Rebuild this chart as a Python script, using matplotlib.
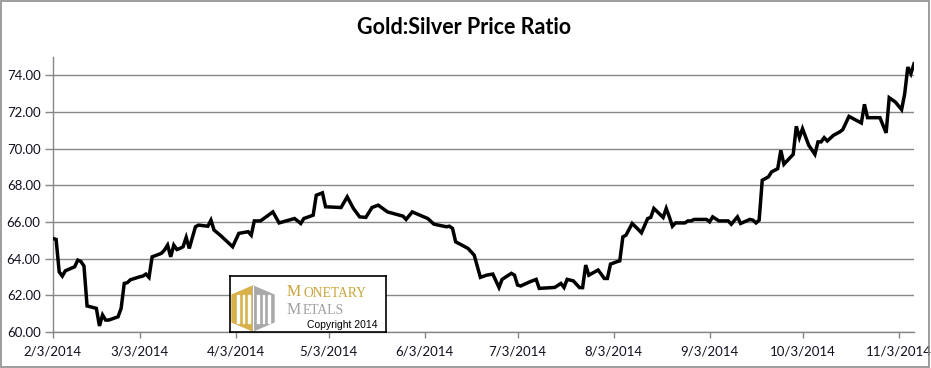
import matplotlib
matplotlib.use("Agg")
import matplotlib.pyplot as plt
import matplotlib.dates as mdates
import matplotlib.patches as mpatches
import matplotlib.ticker as mticker
import pandas as pd

# Gold:Silver ratio
dates = [
    "2014-02-03", "2014-02-04", "2014-02-05", "2014-02-06", "2014-02-07",
    "2014-02-10", "2014-02-11", "2014-02-12", "2014-02-13", "2014-02-14",
    "2014-02-17", "2014-02-18", "2014-02-19", "2014-02-20", "2014-02-21",
    "2014-02-24", "2014-02-25", "2014-02-26", "2014-02-27", "2014-02-28",
    "2014-03-03", "2014-03-04", "2014-03-05", "2014-03-06", "2014-03-07",
    "2014-03-10", "2014-03-11", "2014-03-12", "2014-03-13", "2014-03-14",
    "2014-03-15", "2014-03-16", "2014-03-17", "2014-03-18", "2014-03-19",
    "2014-03-21", "2014-03-22", "2014-03-25", "2014-03-26", "2014-03-27",
    "2014-03-29", "2014-04-02", "2014-04-04", "2014-04-07", "2014-04-08",
    "2014-04-09", "2014-04-11", "2014-04-15", "2014-04-17", "2014-04-22",
    "2014-04-24", "2014-04-25", "2014-04-28", "2014-04-29", "2014-05-01",
    "2014-05-02", "2014-05-07", "2014-05-09", "2014-05-11", "2014-05-13",
    "2014-05-15", "2014-05-17", "2014-05-19", "2014-05-22", "2014-05-27",
    "2014-05-28", "2014-05-30", "2014-06-04", "2014-06-06", "2014-06-10",
    "2014-06-11", "2014-06-12", "2014-06-13", "2014-06-15", "2014-06-17",
    "2014-06-19", "2014-06-21", "2014-06-23", "2014-06-25", "2014-06-27",
    "2014-06-28", "2014-07-01", "2014-07-02", "2014-07-03", "2014-07-04",
    "2014-07-07", "2014-07-09", "2014-07-10", "2014-07-15", "2014-07-17",
    "2014-07-18", "2014-07-19", "2014-07-21", "2014-07-23", "2014-07-24",
    "2014-07-25", "2014-07-26", "2014-07-29", "2014-07-30", "2014-07-31",
    "2014-08-01", "2014-08-02", "2014-08-04", "2014-08-05", "2014-08-06",
    "2014-08-07", "2014-08-09", "2014-08-11", "2014-08-12", "2014-08-14",
    "2014-08-15", "2014-08-16", "2014-08-19", "2014-08-20", "2014-08-21",
    "2014-08-22", "2014-08-23", "2014-08-26", "2014-08-27", "2014-08-28",
    "2014-08-29", "2014-09-02", "2014-09-03", "2014-09-04", "2014-09-06",
    "2014-09-09", "2014-09-10", "2014-09-12", "2014-09-13", "2014-09-16",
    "2014-09-17", "2014-09-18", "2014-09-19", "2014-09-20", "2014-09-22",
    "2014-09-23", "2014-09-25", "2014-09-26", "2014-09-27", "2014-09-30",
    "2014-10-01", "2014-10-02", "2014-10-03", "2014-10-05", "2014-10-07",
    "2014-10-08", "2014-10-09", "2014-10-10", "2014-10-11", "2014-10-13",
    "2014-10-15", "2014-10-16", "2014-10-17", "2014-10-18", "2014-10-22",
    "2014-10-23", "2014-10-24", "2014-10-28", "2014-10-29", "2014-10-30",
    "2014-10-31", "2014-11-02", "2014-11-04", "2014-11-05", "2014-11-06",
    "2014-11-07", "2014-11-08",
]
ratio = [
    65.10, 65.05, 63.28, 63.05, 63.34,
    63.56, 63.92, 63.85, 63.60, 61.42,
    61.29, 60.33, 60.93, 60.65, 60.65,
    60.83, 61.29, 62.65, 62.69, 62.85,
    63.01, 63.05, 63.16, 62.98, 64.10,
    64.29, 64.47, 64.74, 64.10, 64.74,
    64.50, 64.56, 64.65, 65.16, 64.56,
    65.74, 65.83, 65.77, 66.10, 65.56,
    65.28, 64.65, 65.38, 65.47, 65.28,
    66.06, 66.06, 66.55, 65.95, 66.19,
    65.92, 66.19, 66.37, 67.46, 67.59,
    66.83, 66.79, 67.37, 66.74, 66.28,
    66.25, 66.79, 66.92, 66.55, 66.32,
    66.14, 66.55, 66.19, 65.88, 65.74,
    65.77, 65.65, 64.92, 64.74, 64.56,
    64.19, 62.98, 63.10, 63.16, 62.43,
    62.87, 63.20, 63.10, 62.56, 62.51,
    62.74, 62.87, 62.38, 62.43, 62.65,
    62.43, 62.87, 62.79, 62.42, 62.42,
    63.65, 63.10, 63.38, 63.16, 62.92,
    62.92, 63.70, 63.83, 63.88, 65.19,
    65.28, 65.92, 65.59, 65.41, 66.19,
    66.25, 66.74, 66.25, 66.74, 66.28,
    65.77, 65.95, 65.95, 66.06, 66.06,
    66.14, 66.14, 66.01, 66.28, 66.06,
    66.06, 65.88, 66.28, 65.92, 66.14,
    66.10, 65.95, 66.10, 68.28, 68.46,
    68.73, 68.91, 69.91, 69.15, 69.69,
    71.22, 70.60, 71.09, 70.19, 69.69,
    70.37, 70.37, 70.60, 70.42, 70.73,
    70.91, 71.04, 71.40, 71.76, 71.40,
    72.42, 71.69, 71.69, 71.27, 70.86,
    72.78, 72.54, 72.13, 73.00, 74.45,
    74.09, 74.63,
]
y_ticks = [60, 62, 64, 66, 68, 70, 72, 74]

x = pd.to_datetime(dates)
grid_color = "#868686"
font = "Lato"

fig = plt.figure(figsize=(9.31, 3.68), dpi=100)
fig.patch.set_facecolor("white")
fig.patches.append(mpatches.Rectangle((0.001, 0.002), 0.997, 0.995, transform=fig.transFigure,
                                      fill=False, edgecolor="#8c8c8c", linewidth=1.2))

ax = fig.add_axes([53 / 931, 1 - 332 / 368, 861 / 931, 275 / 368])
ax.plot(x, ratio, color="black", linewidth=2.5, solid_joinstyle="miter", zorder=3)

ax.set_ylim(60, 75)
ax.set_xlim(x[0], x[-1])
ax.set_yticks(y_ticks)
ax.yaxis.set_major_formatter(mticker.FormatStrFormatter("%.2f"))
ax.xaxis.set_major_locator(mdates.MonthLocator(bymonthday=3))
ax.xaxis.set_major_formatter(mticker.FuncFormatter(
    lambda v, pos: f"{mdates.num2date(v).month}/{mdates.num2date(v).day}/{mdates.num2date(v).year}"))

ax.grid(axis="y", color=grid_color, linewidth=1.0)
ax.set_axisbelow(True)
for side in ["top", "right"]:
    ax.spines[side].set_visible(False)
for side in ["left", "bottom"]:
    ax.spines[side].set_color(grid_color)
    ax.spines[side].set_linewidth(1.0)
ax.tick_params(axis="y", length=6, width=1, color=grid_color, pad=3, labelsize=9.5)
ax.tick_params(axis="x", length=4, width=1, color=grid_color, pad=6, labelsize=9.5)
for lab in ax.get_xticklabels() + ax.get_yticklabels():
    lab.set_fontfamily(font)
    lab.set_color("#101020")

fig.text(464 / 931, 1 - 27 / 368, "Gold:Silver Price Ratio", ha="center", va="center",
         fontsize=15.5, fontweight="bold", fontfamily=font)

# Monetary Metals logo box
lg = fig.add_axes([230 / 931, 1 - 332 / 368, 156 / 931, 56 / 368])
lg.set_xlim(0, 156)
lg.set_ylim(0, 56)
lg.set_xticks([])
lg.set_yticks([])
for s in lg.spines.values():
    s.set_color("black")
    s.set_linewidth(1.2)
gold = "#D8B14A"
grey = "#A9A9A9"
cx = 23
lg.add_patch(mpatches.Polygon([(cx, 46), (2, 37), (2, 10), (cx, 1)], color=gold))
lg.add_patch(mpatches.Polygon([(cx, 46), (44, 37), (44, 10), (cx, 1)], color=grey))
for bx in [7, 12.5, 18, 27, 32.5, 38]:
    lg.add_patch(mpatches.Rectangle((bx, 9), 1.8, 28, color="white"))
lg.plot([cx, cx], [1, 46], color="white", linewidth=0.8)
serif = "Liberation Serif"
lg.text(57, 39.5, "M", fontsize=11.5, fontfamily=serif, color="#C9A43A", va="center")
lg.text(73, 38.8, "ONETARY", fontsize=9.8, fontfamily=serif, color="#C9A43A", va="center")
lg.text(57, 21.8, "M", fontsize=11.5, fontfamily=serif, color="#A0A0A0", va="center")
lg.text(73, 21.1, "ETALS", fontsize=9.8, fontfamily=serif, color="#A0A0A0", va="center")
lg.text(77, 7.0, "Copyright 2014", fontsize=7.5, fontfamily="Liberation Sans", color="black", va="center")

fig.savefig("out.png", dpi=100)
